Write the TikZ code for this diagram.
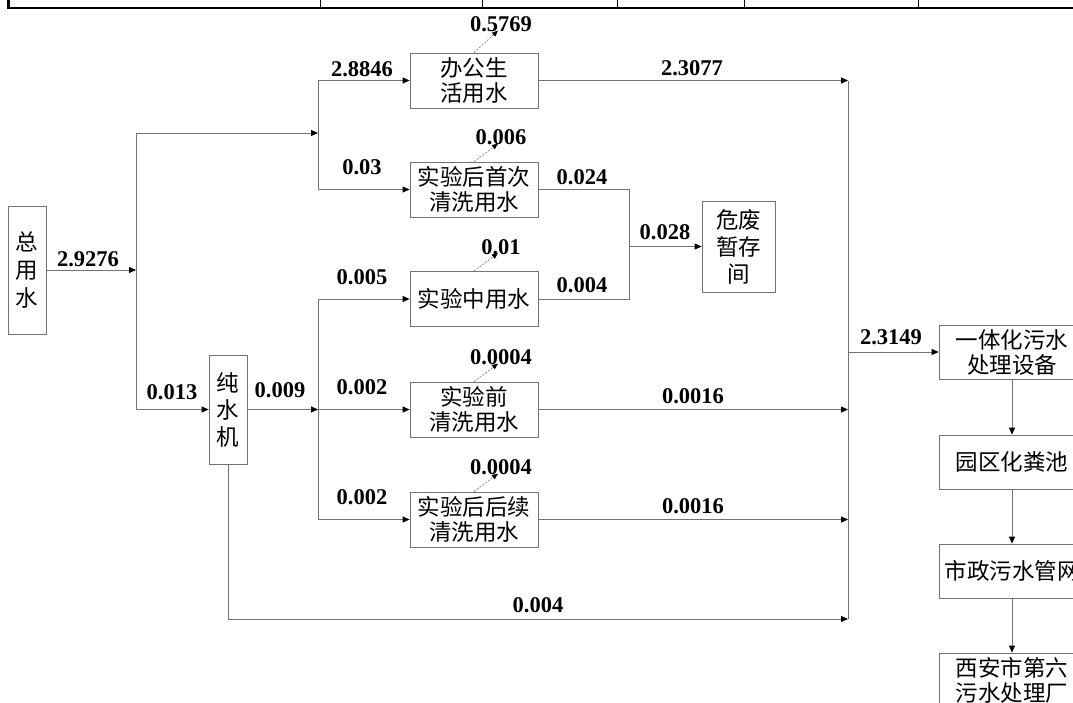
\documentclass[tikz,border=0pt]{standalone}
\usepackage{fontspec}
\setmainfont{Liberation Serif}
\newfontfamily\cjk{Noto Sans CJK SC}
\usepackage{tikz}
\usetikzlibrary{arrows.meta, positioning, calc}
\definecolor{cLine}{RGB}{115,115,115}
\tikzset{
	box/.style   ={rectangle, draw=cLine, line width=0.8pt, align=center, inner sep=0pt, font=\cjk\fontsize{22.5}{25}\selectfont},
	wbox/.style  ={box, minimum width=128pt, minimum height=55pt},
	rbox/.style  ={box, minimum width=146pt, minimum height=54pt},
	tbox/.style  ={box, minimum width=38pt, font=\cjk\fontsize{22.5}{28}\selectfont},
	wire/.style  ={draw=cLine, line width=0.8pt},
	flow/.style  ={wire, -{Triangle[length=7pt, width=6pt, color=black]}},
	loss/.style  ={draw=cLine, line width=0.6pt, dash pattern=on 2pt off 1.5pt, -{Triangle[length=6pt, width=5pt, color=black]}},
	qty/.style   ={font=\bfseries\fontsize{22.5}{24}\selectfont, inner sep=0pt},
}
\begin{document}
\begin{tikzpicture}[x=1pt, y=-1pt]
	\useasboundingbox (0,0) rectangle (1073,702);
	\clip (0,0) rectangle (1073,702);
	% table edge above
	\draw[line width=2.6pt] (8.3,-3) -- (8.3,8) -- (1080,8);
	\foreach \x in {320,482,617,744,918}
		\draw[line width=0.9pt] (\x,0) -- (\x,8);

	% boxes
	\node[tbox, minimum height=128pt] (total) at (27,270) {总\\用\\水};
	\node[tbox, minimum height=109pt, font=\cjk\fontsize{22.5}{27}\selectfont] (pure) at (228,409.5) {纯\\水\\机};
	\node[wbox] (office) at (474,80.5) {办公生\\活用水};
	\node[wbox] (first) at (474,189.5) {实验后首次\\清洗用水};
	\node[wbox] (during) at (474,299) {实验中用水};
	\node[wbox] (pre) at (474,409.5) {实验前\\清洗用水};
	\node[wbox] (post) at (474,519.5) {实验后后续\\清洗用水};
	\node[box, minimum width=73pt, minimum height=91pt, font=\cjk\fontsize{22.5}{27}\selectfont] (haz) at (738.5,246.5) {危废\\暂存\\间};
	\node[rbox] (treat) at (1012,352) {一体化污水\\处理设备};
	\node[rbox] (septic) at (1012,462) {园区化粪池};
	\node[rbox] (sewer) at (1012,571) {市政污水管网};
	\node[rbox] (plant) at (1012,680) {西安市第六\\污水处理厂};

	% junction points
	\coordinate (jA) at (136,270);
	\coordinate (jAtop) at (136,133);
	\coordinate (jAbot) at (136,409.5);
	\coordinate (jB) at (318,133);
	\coordinate (jC) at (318,409.5);
	\coordinate (jD) at (629,246.5);
	\coordinate (jE) at (848,352);
	\coordinate (jF) at (848,619);

	% supply side
	\draw[flow] (total) -- (jA);
	\draw[wire] (jAtop) -- (jAbot);
	\draw[flow] (jAtop) -- (jB);
	\draw[flow] (jAbot) -- (pure);
	\draw[wire] (jB |- office) -- (jB |- first);
	\draw[flow] (jB |- office) -- (office);
	\draw[flow] (jB |- first) -- (first);
	\draw[flow] (pure) -- (jC);
	\draw[wire] (jC |- during) -- (jC |- post);
	\draw[flow] (jC |- during) -- (during);
	\draw[flow] (jC) -- (pre);
	\draw[flow] (jC |- post) -- (post);

	% hazardous waste
	\draw[wire] (first) -- (first -| jD) -- (during -| jD) -- (during);
	\draw[flow] (jD) -- (haz);

	% drainage
	\draw[wire] (office -| jE) -- (jF);
	\draw[flow] (office) -- (office -| jE);
	\draw[flow] (pre) -- (pre -| jE);
	\draw[flow] (post) -- (post -| jE);
	\draw[flow] (pure) |- (jF);
	\draw[flow] (jE) -- (treat);
	\draw[flow] (treat) -- (septic);
	\draw[flow] (septic) -- (sewer);
	\draw[flow] (sewer) -- (plant);

	% losses
	\foreach \b/\v/\h in {office/0.5769/22, first/0.006/18, during/0.01/18, pre/0.0004/18, post/0.0004/18}
		\draw[loss] (\b.north) -- ++(24,-\h) node[qty, anchor=south, xshift=3pt, yshift=-2pt] (loss-\b) {\v};

	% quantities
	\foreach \n/\x/\y/\v in {
		1/88/259.5/2.9276,
		2/362/69/2.8846,
		3/362/167/0.03,
		4/362/277/0.005,
		5/362/387/0.002,
		6/362/497/0.002,
		7/172/392/0.013,
		8/280/390.5/0.009,
		9/692/68.5/2.3077,
		10/582/177/0.024,
		11/582/285/0.004,
		12/665/232/0.028,
		13/693/396/0.0016,
		14/693/506/0.0016,
		15/538/605/0.004,
		16/891/337.5/2.3149}
		\node[qty] (q\n) at (\x,\y) {\v};
\end{tikzpicture}
\end{document}
